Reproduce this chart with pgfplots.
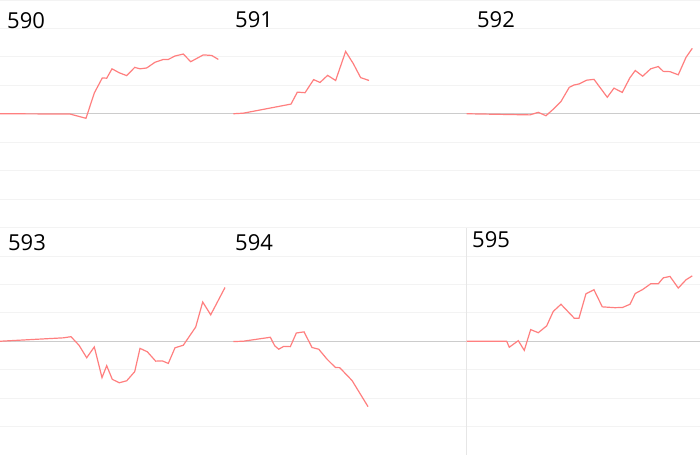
\documentclass[border=0pt]{standalone}
\usepackage{pgfplots}
\pgfplotsset{compat=1.18}
\usepackage{fontspec}
\setmainfont{Open Sans}

\definecolor{linec}{HTML}{FF7F7F}
\definecolor{gridc}{HTML}{F3F3F3}
\definecolor{zeroc}{HTML}{CCCCCC}
\definecolor{edgec}{HTML}{E6E6E6}

\pgfplotsset{
  panel/.style={
    width=233.33bp, height=227.5bp, scale only axis,
    xmin=0, xmax=233.33, ymin=-4, ymax=4,
    axis line style={draw=none},
    tick style={draw=none},
    xtick=\empty, ytick={-4,-3,-2,-1,1,2,3,4}, yticklabels={},
    ymajorgrids, grid style={color=gridc, line width=0.8bp},
    extra y ticks={0}, extra y tick labels={},
    extra y tick style={grid style={color=zeroc, line width=1.2bp}},
    clip=false,
  },
  series/.style={color=linec, line width=1.2bp, no marks},
}
\tikzset{lbl/.style={anchor=base west, inner sep=0pt, font=\fontsize{22bp}{26bp}\selectfont}}

\begin{document}
\begin{tikzpicture}

% 590
\begin{axis}[panel, at={(0bp,0bp)}, anchor=north west]
\addplot[series] coordinates {
(0,0) (70,-0.01) (86,-0.16) (94.3,0.73) (102.3,1.26) (106.7,1.25) (112,1.58)
(119.3,1.44) (126.7,1.34) (134.7,1.63) (140,1.58) (146.7,1.61) (155,1.81)
(163.3,1.91) (168.3,1.91) (175,2.03) (183.3,2.10) (190.7,1.83) (203.3,2.07)
(211.7,2.05) (218.3,1.91)};
\node[lbl] at (axis description cs:0.03,0.873) {590};
\end{axis}

% 591
\begin{axis}[panel, at={(233.33bp,0bp)}, anchor=north west]
\addplot[series] coordinates {
(0,0) (10,0.02) (57.7,0.34) (64,0.76) (71.7,0.74) (80.3,1.2) (86.7,1.10)
(94.3,1.35) (102.3,1.17) (112.3,2.19) (120,1.76) (127.3,1.27) (135.7,1.17)};
\node[lbl] at (axis description cs:0.007,0.881) {591};
\end{axis}

% 592
\begin{axis}[panel, at={(466.67bp,0bp)}, anchor=north west]
\addplot[series] coordinates {
(0,0) (63.3,-0.04) (71.6,0.05) (79.3,-0.07) (86.6,0.16) (94.3,0.43)
(102.6,0.93) (107.3,1.01) (112.6,1.05) (120,1.18) (127.3,1.21) (140.6,0.58)
(147.3,0.90) (155.6,0.75) (163.3,1.27) (168.6,1.52) (176,1.32) (184,1.58)
(191.6,1.66) (196.6,1.49) (203.3,1.48) (211.6,1.37) (219.3,1.98) (225.6,2.30)};
\node[lbl] at (axis description cs:0.044,0.877) {592};
\end{axis}

% 593
\begin{axis}[panel, at={(0bp,-227.5bp)}, anchor=north west]
\addplot[series] coordinates {
(0,0) (63.3,0.12) (71,0.16) (79,-0.14) (86.7,-0.58) (94.3,-0.20) (102,-1.28)
(106.7,-0.86) (112.3,-1.34) (119.3,-1.46) (126.7,-1.39) (134.7,-1.07)
(140,-0.25) (147.3,-0.37) (155.7,-0.70) (162.3,-0.69) (168.3,-0.78)
(175,-0.23) (183.3,-0.14) (195.7,0.50) (202.7,1.38) (210.7,0.93) (225,1.89)};
\node[lbl] at (axis description cs:0.034,0.897) {593};
\end{axis}

% 594
\begin{axis}[panel, at={(233.33bp,-227.5bp)}, anchor=north west]
\addplot[series] coordinates {
(0,-0.01) (9.7,0) (37,0.14) (41.4,-0.16) (45.4,-0.28) (50.4,-0.18) (57,-0.19)
(63,0.29) (70.7,0.33) (78.7,-0.22) (85.4,-0.28) (93.7,-0.63) (102,-0.92)
(106.4,-0.93) (118.7,-1.38) (134.7,-2.30)};
\node[lbl] at (axis description cs:0.007,0.897) {594};
\end{axis}

% 595
\begin{axis}[panel, at={(466.67bp,-227.5bp)}, anchor=north west]
\draw[edgec, line width=1bp] (rel axis cs:0,0) -- (rel axis cs:0,1);
\addplot[series] coordinates {
(0,0) (40,0) (42.6,-0.21) (51.6,0.02) (57.6,-0.32) (64,0.41) (71.6,0.30)
(80,0.54) (86.6,1.05) (94.3,1.30) (107.6,0.81) (112.3,0.81) (119.3,1.67)
(127.3,1.81) (135.6,1.21) (148.3,1.18) (156,1.19) (163.3,1.30) (168.6,1.68)
(176,1.82) (184,2.02) (191.6,2.02) (196.6,2.23) (203.3,2.28) (211.6,1.87)
(219.3,2.16) (225.6,2.30)};
\node[lbl] at (axis description cs:0.023,0.910) {595};
\end{axis}

\pgfresetboundingbox
\useasboundingbox (0bp,0bp) rectangle (700bp,-455bp);
\end{tikzpicture}
\end{document}
